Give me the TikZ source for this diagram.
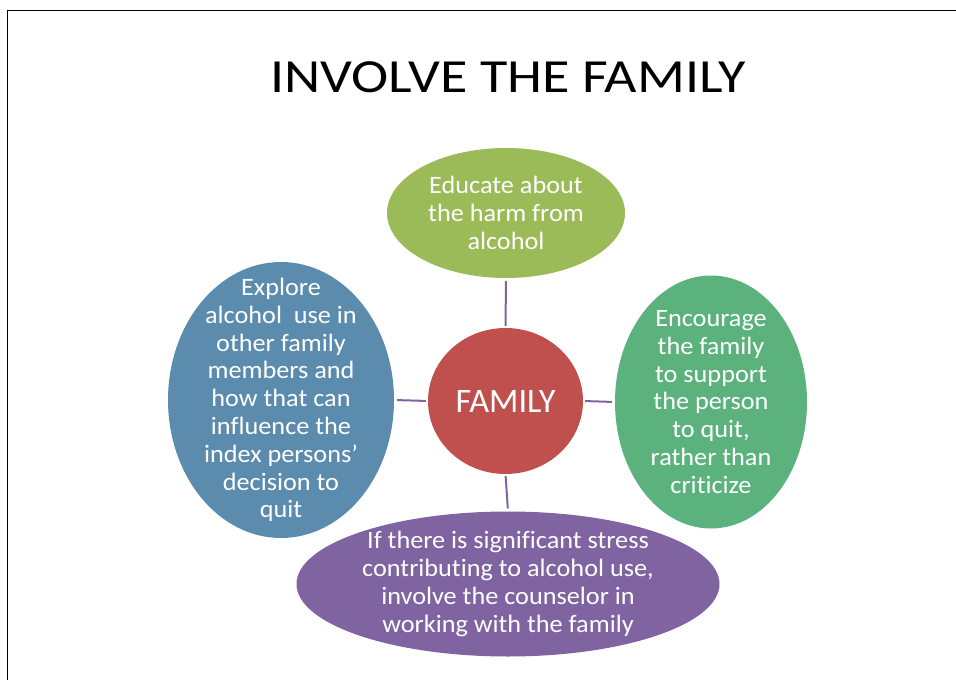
\documentclass[tikz,border=0pt]{standalone}
\usepackage{fontspec}
\setmainfont{Carlito}
\newfontfamily\bodyfont[FakeStretch=1.05, Ligatures=NoCommon]{Carlito}
\newfontfamily\titlefont[FakeStretch=1.18]{Carlito}
\usepackage{tikz}
\usetikzlibrary{shapes.geometric}
\definecolor{olivegreen}{HTML}{9BBB59}
\definecolor{steelblue}{HTML}{5B8BAD}
\definecolor{mintgreen}{HTML}{5BB27C}
\definecolor{brickred}{HTML}{C0504D}
\definecolor{violet}{HTML}{8064A2}

\begin{document}
\begin{tikzpicture}[
  x=1pt, y=1pt,
  bubble/.style={ellipse, inner sep=0pt},
  bubbletext/.style={
    text=white, align=center, inner sep=0pt,
    font=\bodyfont\fontsize{25}{27.8}\selectfont},
  hub/.style={
    ellipse, fill=brickred, inner sep=0pt,
    minimum width=155pt, minimum height=146pt,
    text=white, font=\fontsize{34.3}{40}\selectfont},
  link/.style={violet, line width=2pt, shorten <=2pt, shorten >=3pt},
]
  \useasboundingbox (0,0) rectangle (956,-680);

  % Frame
  \draw[line width=1.5pt] (7.5,-680) -- (7.5,-10.5) -- (956,-10.5);

  % Title
  \node[anchor=base, font=\titlefont\fontsize{47.5}{52}\selectfont] (title) at (508,-92.5) {INVOLVE THE FAMILY};

  % Centre and satellites
  \node[hub] (fam) at (505.5,-401) {FAMILY};
  \node[bubble, fill=olivegreen, minimum width=238pt, minimum height=130pt,
    label={[bubbletext]center:{Educate about\\the harm from\\alcohol}}]
    (edu) at (506,-213) {};
  \node[bubble, fill=steelblue, minimum width=226pt, minimum height=276pt,
    label={[bubbletext]center:{Explore\\alcohol\ \ use in\\other family\\members and\\how that can\\influence the\\index persons’\\decision to\\quit}}]
    (expl) at (281,-400) {};
  \node[bubble, fill=mintgreen, minimum width=192pt, minimum height=253pt,
    label={[bubbletext]center:{Encourage\\the family\\to support\\the person\\to quit,\\rather than\\criticize}}]
    (enc) at (711,-402) {};
  \node[bubble, fill=violet, minimum width=423pt, minimum height=145pt,
    label={[bubbletext]center:{If there is significant stress\\contributing to alcohol use,\\involve the counselor in\\working with the family}}]
    (stress) at (508,-584) {};

  % Links
  \draw[link] (fam.north) -- (edu.south);
  \draw[link] (fam.west) -- (expl.east);
  \draw[link] (fam.east) -- (enc.west);
  \draw[link] (fam.south) -- (stress.north);
\end{tikzpicture}
\end{document}
